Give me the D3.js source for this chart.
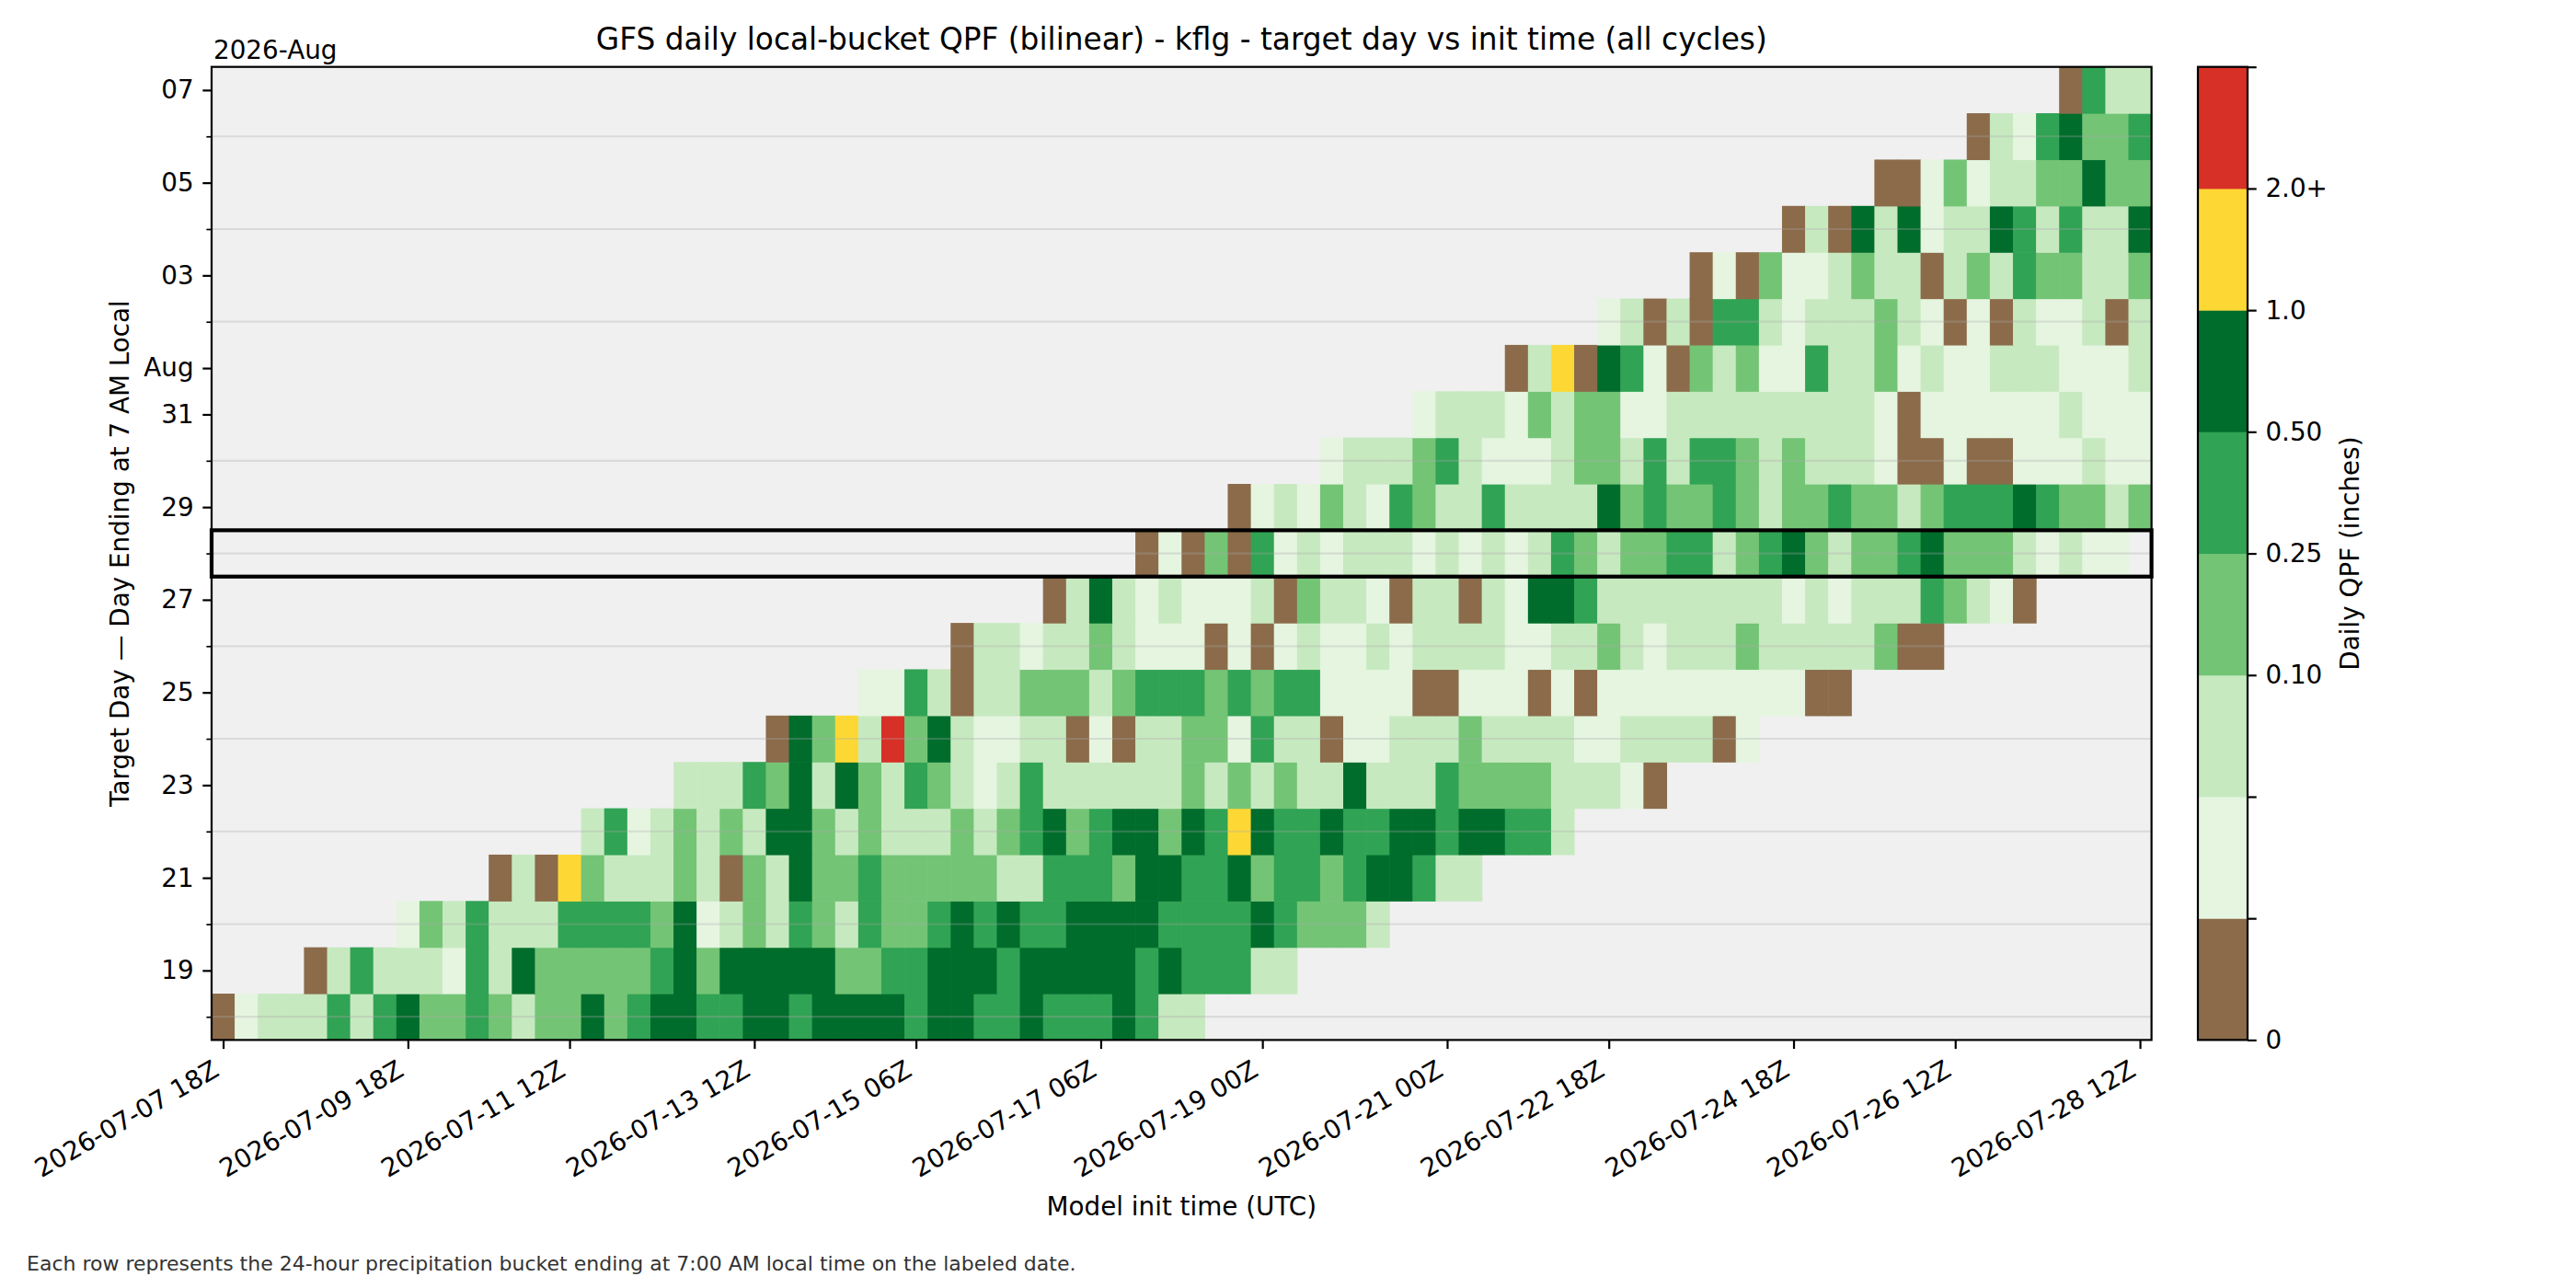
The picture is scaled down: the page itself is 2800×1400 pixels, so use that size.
<!DOCTYPE html>
<html>
<head>
<meta charset="utf-8">
<script src="https://cdn.jsdelivr.net/npm/d3@7"></script>
<style>
  body { margin: 0; background: #ffffff; }
  svg text { font-family: "DejaVu Sans", sans-serif; fill: #000; }
</style>
</head>
<body>
<div id="chart"></div>
<script>
////////////////////////////////////////////////////////////
//////////////////////// Data //////////////////////////////
////////////////////////////////////////////////////////////
// Target days (rows, bottom to top)
var targetDays = ["2026-07-18","2026-07-19","2026-07-20","2026-07-21","2026-07-22","2026-07-23","2026-07-24",
                  "2026-07-25","2026-07-26","2026-07-27","2026-07-28","2026-07-29","2026-07-30","2026-07-31",
                  "2026-08-01","2026-08-02","2026-08-03","2026-08-04","2026-08-05","2026-08-06","2026-08-07"];

// Index of the first init cycle that covers each target day
var firstCycle = [0,4,8,12,16,20,24,28,32,36,40,44,48,52,56,60,64,68,72,76,80];

// QPF bin per cell, one letter per init cycle, starting at firstCycle
// B=0, V=trace, L=<0.10, M=0.10-0.25, G=0.25-0.50, D=0.50-1.0, Y=1.0-2.0, R=2.0+
var qpfCodes = [
  "BVLLLGLGDMMGMLMMDMGDDGGDDGDDDDGDDGGDGGGDGLL",
  "BLGLLLVGLDMMMMMGDMDDDDDMMGGDDDGDDDDDGDGGGLL",
  "VMLGLLLGGGGMDVLMLGMLGMMGDGDGGDDDDGGGGDGMMML",
  "BLBYMLLLMLBMLDMMGMMMMMLLGGGMDDGGDMGGMGDDGLL",
  "LGVLMLMLDDMLMLLLMLMGDMGDDMDGYDGGDGGDDGDDGGL",
  "LLLGMDLDMLGMLVLGLLLLLLMLMLMLLDLLLGMMMMLLLVB",
  "BDMYLRMDLVVLLBVBLLMMVGLLBVVLLLMLLLLVVLLLLBV",
  "VVGLBLLMMMLMGGGMGMGGVVVVBBVVVBVBVVVVVVVVVBB",
  "BLLVLLMLVVVBVBVLVVLVLLLLVVLLMLVLLLMLLLLLMBB",
  "BLDLVLVVVLBMLLVBLLBLVDDGLLLLLLLLVLVLLLGMLVB",
  "BVBMBGVLVLLLVLVLVLGMLMMGGLMGDMLMMGDMMMLVLVV",
  "BVLVMLVGMLLGLLLLDMGMMGMLMMGMMLMGGGDGMMLM",
  "VLLLMGLVVVLMMLGLGGMLMLLLVBBVBBVVVLVV",
  "VLLLVMLMMVVLLLLLLLLLVBVVVVVVLVVV",
  "BLYBDGVBMLMVVGLLMVLVVLLLVVVL",
  "VLBLBGGLVLLLMLVBVBLVVLBL",
  "BVBMVVLMLLBLMLGMMLLM",
  "BLBDLDVLLDGLGLLD",
  "BBVMVLLMMDMM",
  "BLVGDMMG",
  "BGLL"
];

// Estimated amount (inches) for each bin letter
var codeAmount = {B: 0, V: 0.005, L: 0.05, M: 0.17, G: 0.36, D: 0.72, Y: 1.4, R: 2.4};

// Color bins
var binEdges  = [0.001, 0.01, 0.10, 0.25, 0.50, 1.0, 2.0];
var binColors = ["#8b6b4a","#e5f5e0","#c7e9c0","#74c476","#31a354","#006d2c","#fdd835","#d73027"];
var cbTickLabels = ["0","","","0.10","0.25","0.50","1.0","2.0+",""];

// Init cycles / axis ticks
var firstInit = "2026-07-07 18Z", lastInit = "2026-07-28 12Z";
var xTickLabels = ["2026-07-07 18Z","2026-07-09 18Z","2026-07-11 12Z","2026-07-13 12Z","2026-07-15 06Z","2026-07-17 06Z",
                   "2026-07-19 00Z","2026-07-21 00Z","2026-07-22 18Z","2026-07-24 18Z","2026-07-26 12Z","2026-07-28 12Z"];
var yMajorDays = ["2026-07-19","2026-07-21","2026-07-23","2026-07-25","2026-07-27","2026-07-29","2026-07-31",
                  "2026-08-01","2026-08-03","2026-08-05","2026-08-07"];
var highlightDay = "2026-07-28";

////////////////////////////////////////////////////////////
//////////////////////// Set-Up ////////////////////////////
////////////////////////////////////////////////////////////
var W = 2800, H = 1400;
var plot = {left: 230, right: 2338.6, top: 72.7, bottom: 1130.4};
var cbar = {left: 2389, right: 2443};
var tickFs = 27.8, tickLen = 9.7, minorLen = 5.6, pad = 9.7, spine = 2.2;

var parseInit = d3.utcParse("%Y-%m-%d %HZ");
var parseDay = d3.utcParse("%Y-%m-%d");
var cycles = d3.utcHour.every(6).range(parseInit(firstInit), new Date(+parseInit(lastInit) + 1));
var halfCycle = 3 * 3600e3, halfDay = 12 * 3600e3;

var x = d3.scaleUtc()
          .domain([new Date(+cycles[0] - halfCycle), new Date(+cycles[cycles.length - 1] + halfCycle)])
          .range([plot.left, plot.right]);
var days = targetDays.map(parseDay);
var y = d3.scaleUtc()
          .domain([new Date(+days[0] - halfDay), new Date(+days[days.length - 1] + halfDay)])
          .range([plot.bottom, plot.top]);
var color = d3.scaleThreshold().domain(binEdges).range(binColors);

var svg = d3.select("#chart").append("svg")
            .attr("width", W)
            .attr("height", H)
            .style("background", "#fff");

// Axes background
svg.append("rect")
   .attr("x", plot.left).attr("y", plot.top)
   .attr("width", plot.right - plot.left).attr("height", plot.bottom - plot.top)
   .attr("fill", "#f0f0f0");

// Cells
var cells = [];
qpfCodes.forEach(function(row, d) {
  for (var k = 0; k < row.length; k++) {
    var c = firstCycle[d] + k;
    if (c >= cycles.length) break;
    cells.push({init: cycles[c], day: days[d], value: codeAmount[row[k]]});
  }
});
svg.append("g").classed("cells", true)
   .selectAll("rect")
   .data(cells)
   .enter()
   .append("rect")
     .attr("x", function(d) { return x(new Date(+d.init - halfCycle)); })
     .attr("y", function(d) { return y(new Date(+d.day + halfDay)); })
     .attr("width", function(d) { return x(new Date(+d.init + halfCycle)) - x(new Date(+d.init - halfCycle)) + 0.6; })
     .attr("height", function(d) { return y(new Date(+d.day - halfDay)) - y(new Date(+d.day + halfDay)) + 0.6; })
     .attr("fill", function(d) { return color(d.value); });

// Gridlines on minor days
var majorSet = new Set(yMajorDays);
var minorDays = targetDays.filter(function(s) { return !majorSet.has(s); }).map(parseDay);
svg.append("g").selectAll("line")
   .data(minorDays)
   .enter()
   .append("line")
     .attr("x1", plot.left).attr("x2", plot.right)
     .attr("y1", function(d) { return y(d); }).attr("y2", function(d) { return y(d); })
     .attr("stroke", "#a8a8a8").attr("stroke-opacity", 0.3).attr("stroke-width", 2.2);

// Highlight box
var hd = parseDay(highlightDay);
svg.append("rect")
   .attr("x", plot.left).attr("y", y(new Date(+hd + halfDay)))
   .attr("width", plot.right - plot.left)
   .attr("height", y(new Date(+hd - halfDay)) - y(new Date(+hd + halfDay)))
   .attr("fill", "none").attr("stroke", "#000").attr("stroke-width", 4.2);

// Frame
svg.append("rect")
   .attr("x", plot.left).attr("y", plot.top)
   .attr("width", plot.right - plot.left).attr("height", plot.bottom - plot.top)
   .attr("fill", "none").attr("stroke", "#000").attr("stroke-width", spine);

////////////////////////////////////////////////////////////
//////////////////////// Axes //////////////////////////////
////////////////////////////////////////////////////////////
// X axis
var xAxis = d3.axisBottom(x)
              .tickValues(xTickLabels.map(parseInit))
              .tickFormat(d3.utcFormat("%Y-%m-%d %HZ"))
              .tickSize(tickLen).tickSizeOuter(0);
var gx = svg.append("g").attr("transform", "translate(0," + plot.bottom + ")").call(xAxis);
gx.select(".domain").remove();
gx.selectAll("line").attr("stroke", "#000").attr("stroke-width", spine);
gx.selectAll("text")
  .attr("y", null).attr("dy", null)
  .attr("text-anchor", "end")
  .attr("font-size", tickFs)
  .attr("transform", "translate(" + (-0.12 * tickFs) + "," + (tickLen + pad + 0.66 * tickFs) + ") rotate(-30)");

// Y axis (major)
var fmtDay = d3.utcFormat("%d"), fmtMon = d3.utcFormat("%b");
var yAxis = d3.axisLeft(y)
              .tickValues(yMajorDays.map(parseDay))
              .tickFormat(function(d) { return d.getUTCDate() === 1 ? fmtMon(d) : fmtDay(d); })
              .tickSize(tickLen).tickPadding(pad).tickSizeOuter(0);
var gy = svg.append("g").attr("transform", "translate(" + plot.left + ",0)").call(yAxis);
gy.select(".domain").remove();
gy.selectAll("line").attr("stroke", "#000").attr("stroke-width", spine);
gy.selectAll("text").attr("font-size", tickFs);

// Y axis (minor)
var yMinor = d3.axisLeft(y).tickValues(minorDays).tickFormat("").tickSize(minorLen).tickSizeOuter(0);
var gym = svg.append("g").attr("transform", "translate(" + plot.left + ",0)").call(yMinor);
gym.select(".domain").remove();
gym.selectAll("line").attr("stroke", "#000").attr("stroke-width", 1.7);

// Offset text, labels, title
svg.append("text").attr("x", plot.left + 2).attr("y", 64)
   .attr("font-size", tickFs).text("2026-" + fmtMon(days[days.length - 1]));
svg.append("text").attr("x", (plot.left + plot.right) / 2).attr("y", 54)
   .attr("text-anchor", "middle").attr("font-size", 32.8)
   .text("GFS daily local-bucket QPF (bilinear) - kflg - target day vs init time (all cycles)");
svg.append("text").attr("x", (plot.left + plot.right) / 2).attr("y", 1321)
   .attr("text-anchor", "middle").attr("font-size", tickFs)
   .text("Model init time (UTC)");
svg.append("text")
   .attr("transform", "translate(130," + ((plot.top + plot.bottom) / 2) + ") rotate(-90)")
   .attr("text-anchor", "middle").attr("dy", "0.35em").attr("font-size", tickFs)
   .text("Target Day \u2014 Day Ending at 7 AM Local");
svg.append("text").attr("x", 29).attr("y", 1381)
   .attr("font-size", 22).style("fill", "#333")
   .text("Each row represents the 24-hour precipitation bucket ending at 7:00 AM local time on the labeled date.");

////////////////////////////////////////////////////////////
//////////////////////// Colorbar //////////////////////////
////////////////////////////////////////////////////////////
var cb = d3.scaleLinear().domain([0, binColors.length]).range([plot.bottom, plot.top]);
svg.append("g").selectAll("rect")
   .data(binColors)
   .enter()
   .append("rect")
     .attr("x", cbar.left)
     .attr("y", function(d, i) { return cb(i + 1); })
     .attr("width", cbar.right - cbar.left)
     .attr("height", function(d, i) { return cb(i) - cb(i + 1) + 0.5; })
     .attr("fill", function(d) { return d; });
svg.append("rect")
   .attr("x", cbar.left).attr("y", plot.top)
   .attr("width", cbar.right - cbar.left).attr("height", plot.bottom - plot.top)
   .attr("fill", "none").attr("stroke", "#000").attr("stroke-width", spine);
var cbAxis = d3.axisRight(cb)
               .tickValues(d3.range(cbTickLabels.length))
               .tickFormat(function(d) { return cbTickLabels[d]; })
               .tickSize(tickLen).tickPadding(pad).tickSizeOuter(0);
var gcb = svg.append("g").attr("transform", "translate(" + cbar.right + ",0)").call(cbAxis);
gcb.select(".domain").remove();
gcb.selectAll("line").attr("stroke", "#000").attr("stroke-width", spine);
gcb.selectAll("text").attr("font-size", tickFs);
svg.append("text")
   .attr("transform", "translate(2554," + ((plot.top + plot.bottom) / 2) + ") rotate(-90)")
   .attr("text-anchor", "middle").attr("dy", "0.35em").attr("font-size", tickFs)
   .text("Daily QPF (inches)");
</script>
</body>
</html>
